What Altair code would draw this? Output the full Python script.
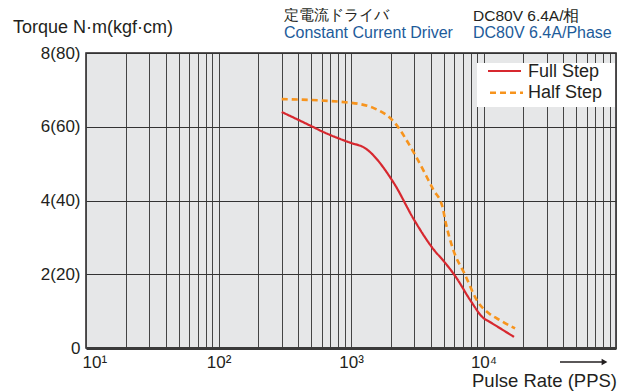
import altair as alt
import pandas as pd

# ---- data ----
full_freq = [300, 500, 600, 1000, 1250, 2100, 3000, 4250, 5000, 6200, 8000, 10000, 11000, 17000]
full_torque = [6.40, 6.02, 5.88, 5.56, 5.44, 4.48, 3.47, 2.65, 2.36, 1.92, 1.28, 0.81, 0.72, 0.30]

half_freq = [300, 1000, 1150, 1500, 2050, 3000, 4200, 4900, 5200, 5900, 7200, 9100, 10800, 13700, 17300]
half_torque = [6.75, 6.65, 6.62, 6.50, 6.18, 5.28, 4.28, 3.83, 3.38, 2.67, 2.01, 1.24, 0.96, 0.73, 0.53]

series_names = ["Full Step", "Half Step"]
series_colors = ["#d7282f", "#f7941d"]
series_dash = [[1, 0], [6, 4]]
series_width = [2.2, 2.6]

x_ticks = [10, 100, 1000, 10000]
x_tick_labels = ["10¹", "10²", "10³", "10⁴"]
y_ticks = [0, 2, 4, 6, 8]
y_tick_labels = ["0", "2(20)", "4(40)", "6(60)", "8(80)"]

y_title = "Torque N·m(kgf·cm)"
x_title = "Pulse Rate (PPS)"
driver_jp = "定電流ドライバ"
driver_en = "Constant Current Driver"
spec_jp = "DC80V 6.4A/相"
spec_en = "DC80V 6.4A/Phase"

# ---- table ----
rows = [{"series": series_names[0], "freq": f, "torque": t} for f, t in zip(full_freq, full_torque)]
rows += [{"series": series_names[1], "freq": f, "torque": t} for f, t in zip(half_freq, half_torque)]
df = pd.DataFrame(rows)
one = pd.DataFrame({"k": [0]})

FONT = "Liberation Sans"
DARK = "#231f20"
BLUE = "#1d5b9a"

grid_values = [m * 10 ** d for d in range(1, 5) for m in range(1, 10)] + [100000]
x_label_expr = " : ".join(f"datum.value == {v} ? '{l}'" for v, l in zip(x_ticks, x_tick_labels)) + " : ''"
y_label_expr = " : ".join(f"datum.value == {v} ? '{l}'" for v, l in zip(y_ticks, y_tick_labels)) + " : ''"

x_enc = alt.X(
    "freq:Q",
    scale=alt.Scale(type="log", domain=[10, 100000]),
    axis=alt.Axis(
        values=grid_values, labelExpr=x_label_expr, title=None,
        grid=True, gridColor="#444444", gridWidth=1,
        ticks=False, tickSize=0, labelPadding=6,
        labelFontSize=17, labelFont=FONT, labelColor=DARK,
        labelFlush=True, labelFlushOffset=4, labelOverlap=False,
        domainColor="#3a3a3a", domainWidth=3,
    ),
)
y_enc = alt.Y(
    "torque:Q",
    scale=alt.Scale(domain=[0, 8]),
    axis=alt.Axis(
        values=y_ticks, labelExpr=y_label_expr, title=None,
        grid=True, gridColor="#333333", gridWidth=1.2,
        ticks=False, tickSize=0, labelPadding=6,
        labelFontSize=17, labelFont=FONT, labelColor=DARK,
        domain=False, labelOverlap=False,
    ),
)

lines = alt.Chart(df).mark_line(interpolate="monotone").encode(
    x=x_enc,
    y=y_enc,
    color=alt.Color("series:N", scale=alt.Scale(domain=series_names, range=series_colors), legend=None),
    strokeDash=alt.StrokeDash("series:N", scale=alt.Scale(domain=series_names, range=series_dash), legend=None),
    strokeWidth=alt.StrokeWidth("series:N", scale=alt.Scale(domain=series_names, range=series_width), legend=None),
    detail="series:N",
)


def txt(s, x, y, size, color=DARK, align="left"):
    return alt.Chart(one).mark_text(
        align=align, baseline="alphabetic", fontSize=size, font=FONT, color=color
    ).encode(x=alt.value(x), y=alt.value(y), text=alt.value(s))


legend_box = alt.Chart(one).mark_rect(color="white").encode(
    x=alt.value(391), x2=alt.value(529), y=alt.value(10), y2=alt.value(54)
)
leg_full = alt.Chart(one).mark_rule(color=series_colors[0], strokeWidth=series_width[0]).encode(
    x=alt.value(402), x2=alt.value(435), y=alt.value(18)
)
leg_half = alt.Chart(one).mark_rule(
    color=series_colors[1], strokeWidth=series_width[1], strokeDash=series_dash[1]
).encode(x=alt.value(404), x2=alt.value(437), y=alt.value(39.7))

arrow_line = alt.Chart(one).mark_rule(color=DARK, strokeWidth=1.3).encode(
    x=alt.value(474), x2=alt.value(517), y=alt.value(309)
)
arrow_head = alt.Chart(one).mark_point(shape="triangle-right", filled=True, size=45, color=DARK, opacity=1).encode(
    x=alt.value(518.5), y=alt.value(309)
)

chart = alt.layer(
    lines,
    legend_box,
    leg_full,
    leg_half,
    txt(series_names[0], 442, 23.7, 18),
    txt(series_names[1], 442, 45.3, 18),
    txt(y_title, -73, -20.3, 18),
    txt(driver_jp, 198, -33, 14.5),
    txt(driver_en, 198, -14.7, 16, BLUE),
    txt(spec_jp, 387, -32.3, 15.5),
    txt(spec_en, 387, -14.7, 16, BLUE),
    arrow_line,
    arrow_head,
    txt(x_title, 531, 334, 18.5, align="right"),
).properties(
    width=530,
    height=295,
    autosize=alt.AutoSizeParams(type="none"),
    padding={"left": 78, "top": 45, "right": 3, "bottom": 44},
    background="white",
).configure_view(
    fill="#e6e7e8", stroke=DARK, strokeWidth=1.5
)

chart.save("out.html", embed_options={"renderer": "svg", "actions": False})
